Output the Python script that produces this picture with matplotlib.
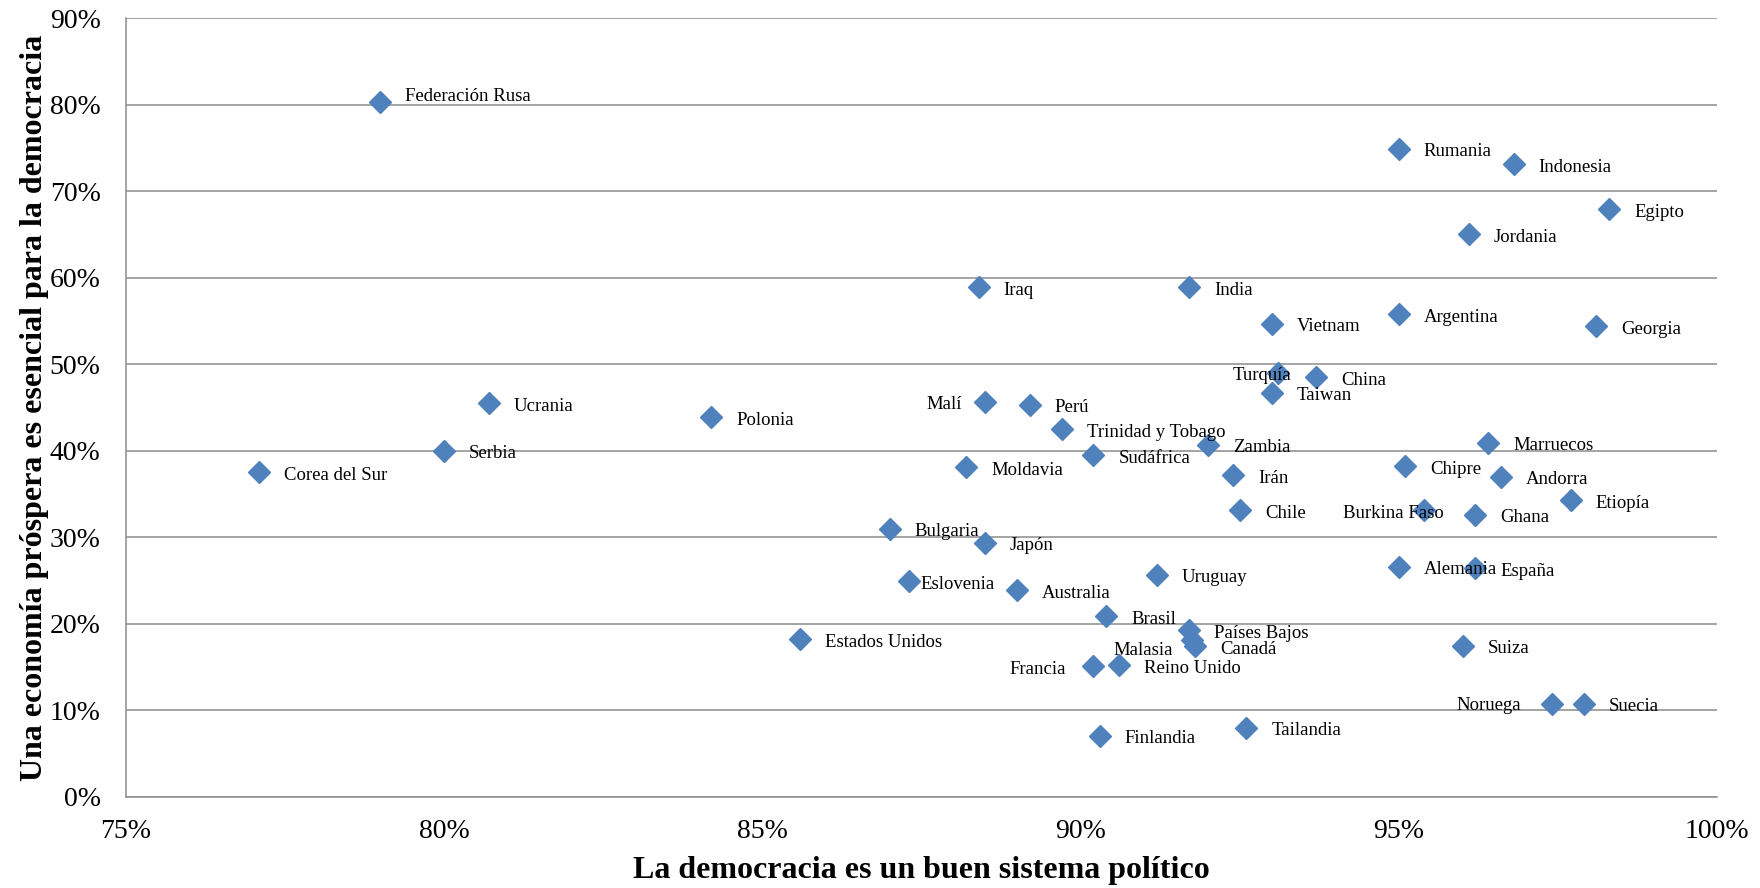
import matplotlib.pyplot as plt
from matplotlib.ticker import PercentFormatter, MultipleLocator

plt.rcParams['font.family'] = ['Liberation Serif', 'DejaVu Serif']

# Porcentaje de acuerdo con cada afirmación, por país
paises = ['Federación Rusa', 'Corea del Sur', 'Serbia', 'Ucrania', 'Polonia',
          'Estados Unidos', 'Bulgaria', 'Eslovenia', 'Moldavia', 'Iraq',
          'Malí', 'Japón', 'Australia', 'Perú', 'Trinidad y Tobago',
          'Sudáfrica', 'Francia', 'Finlandia', 'Brasil', 'Reino Unido',
          'Uruguay', 'India', 'Países Bajos', 'Malasia', 'Canadá',
          'Zambia', 'Irán', 'Chile', 'Tailandia', 'Vietnam',
          'Taiwan', 'Turquía', 'China', 'Rumania', 'Argentina',
          'Alemania', 'Chipre', 'Burkina Faso', 'Suiza', 'Jordania',
          'Ghana', 'España', 'Marruecos', 'Andorra', 'Indonesia',
          'Etiopía', 'Noruega', 'Suecia', 'Georgia', 'Egipto']
buen_sistema = [79.0, 77.1, 80.0, 80.7, 84.2,
                85.6, 87.0, 87.3, 88.2, 88.4,
                88.5, 88.5, 89.0, 89.2, 89.7,
                90.2, 90.2, 90.3, 90.4, 90.6,
                91.2, 91.7, 91.7, 91.75, 91.8,
                92.0, 92.4, 92.5, 92.6, 93.0,
                93.0, 93.1, 93.7, 95.0, 95.0,
                95.0, 95.1, 95.4, 96.0, 96.1,
                96.2, 96.2, 96.4, 96.6, 96.8,
                97.7, 97.4, 97.9, 98.1, 98.3]
economia_esencial = [80.3, 37.5, 40.0, 45.5, 43.9,
                     18.2, 31.0, 24.9, 38.1, 58.9,
                     45.6, 29.4, 23.9, 45.3, 42.5,
                     39.5, 15.1, 7.1, 20.9, 15.2,
                     25.7, 58.9, 19.3, 18.1, 17.4,
                     40.7, 37.2, 33.1, 8.0, 54.7,
                     46.7, 49.0, 48.5, 74.9, 55.8,
                     26.6, 38.2, 33.1, 17.5, 65.0,
                     32.6, 26.4, 40.9, 37.0, 73.1,
                     34.3, 10.7, 10.8, 54.4, 67.9]

# desplazamiento de etiquetas que no van a la derecha del punto (px, alineacion)
ajustes = {
    'Federación Rusa': (25, 5, 'left'),
    'Turquía': (13, -3, 'right'),
    'Malí': (-23, -2, 'right'),
    'Burkina Faso': (19, -3, 'right'),
    'Eslovenia': (12, -3, 'left'),
    'Francia': (-27, -3, 'right'),
    'Noruega': (-31, -1, 'right'),
    'Malasia': (-19, -10, 'right'),
    'Países Bajos': (25, -4, 'left'),
}

gris = '#8c8c8c'
fig = plt.figure(figsize=(17.6, 8.88), dpi=100)
ax = fig.add_axes([0.0714, 0.1025, 0.9043, 0.8772])

ax.plot(buen_sistema, economia_esencial, linestyle='none', marker='D',
        markersize=10.7, color='#4F81BD', zorder=3)

for nombre, x, y in zip(paises, buen_sistema, economia_esencial):
    dx, dy, ha = ajustes.get(nombre, (25, -3, 'left'))
    ax.annotate(nombre, (x, y), xytext=(dx, dy), textcoords='offset pixels',
                ha=ha, va='center', fontsize=13.5, zorder=4)

ax.set_xlim(75, 100)
ax.set_ylim(0, 90)
ax.xaxis.set_major_locator(MultipleLocator(5))
ax.yaxis.set_major_locator(MultipleLocator(10))
ax.xaxis.set_major_formatter(PercentFormatter(decimals=0))
ax.yaxis.set_major_formatter(PercentFormatter(decimals=0))
ax.tick_params(axis='x', length=0, pad=16, labelsize=20)
ax.tick_params(axis='y', length=0, pad=18, labelsize=20)

ax.grid(axis='y', color=gris, linewidth=1.1)
ax.set_axisbelow(True)
for lado in ['top', 'right']:
    ax.spines[lado].set_visible(False)
for lado in ['left', 'bottom']:
    ax.spines[lado].set_color(gris)
    ax.spines[lado].set_linewidth(1.1)

ax.set_xlabel('La democracia es un buen sistema político', fontsize=23,
              fontweight='bold')
ax.set_ylabel('Una economía próspera es esencial para la democracia',
              fontsize=23, fontweight='bold')
ax.xaxis.set_label_coords(0.5, -0.0757)
ax.yaxis.set_label_coords(-0.0483, 0.5)

fig.savefig('out.png', dpi=100)
